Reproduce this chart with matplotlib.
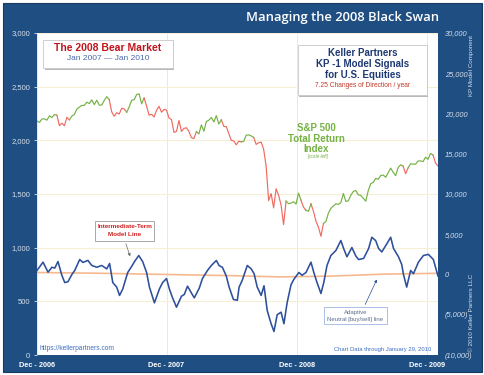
import numpy as np
import pandas as pd
import matplotlib
matplotlib.use("Agg")
import matplotlib.pyplot as plt
from matplotlib.patches import Rectangle
from matplotlib.ticker import FuncFormatter

# ===== Data =====
# S&P 500 total return index (scale left), weekly Fridays Dec 29 2006 - Jan 29 2010
sp_dates = pd.date_range("2006-12-29", "2010-01-29", freq="W-FRI")
sp_2006 = [2180]
sp_2007 = [2167, 2199, 2200, 2188, 2229, 2212, 2241, 2234, 2137, 2160, 2136, 2215, 2191,
           2226, 2241, 2291, 2309, 2325, 2326, 2355, 2343, 2377, 2333, 2374, 2328, 2329,
           2372, 2407, 2380, 2264, 2225, 2257, 2245, 2299, 2292, 2262, 2310, 2374, 2378,
           2426, 2433, 2340, 2394, 2320, 2234, 2243, 2218, 2280, 2317, 2262, 2288, 2281]
sp_2008 = [2208, 2193, 2074, 2083, 2185, 2083, 2111, 2117, 2083, 2025, 2016, 2081, 2060,
           2144, 2085, 2175, 2188, 2213, 2172, 2230, 2152, 2191, 2130, 2128, 2063, 2000,
           1994, 1958, 1992, 1986, 1991, 2048, 2051, 2041, 2027, 1962, 1978, 1983, 1917,
           1758, 1438, 1504, 1370, 1549, 1488, 1397, 1215, 1434, 1410, 1415, 1428, 1406]
sp_2009 = [1508, 1442, 1377, 1348, 1338, 1408, 1340, 1247, 1191, 1106, 1225, 1244, 1322,
           1366, 1388, 1409, 1403, 1421, 1505, 1430, 1437, 1489, 1523, 1533, 1492, 1487,
           1460, 1433, 1532, 1596, 1609, 1646, 1637, 1672, 1677, 1656, 1698, 1741, 1702,
           1671, 1746, 1772, 1760, 1689, 1743, 1782, 1778, 1778, 1808, 1808, 1802, 1843]
sp_2010 = [1823, 1878, 1863, 1789, 1761]
sp_vals = sp_2006 + sp_2007 + sp_2008 + sp_2009 + sp_2010

# KP model signal changes (buy = green, sell = red)
signal_dates = ["2006-12-29", "2007-02-27", "2007-04-03", "2007-07-24", "2007-09-10",
                "2007-10-30", "2008-03-28", "2008-06-06", "2008-08-01", "2008-09-02",
                "2008-12-01", "2009-01-14", "2009-01-26", "2009-02-13", "2009-03-17",
                "2009-10-28", "2009-11-09", "2010-01-20"]
signal_state = ["buy", "sell", "buy", "sell", "buy", "sell", "buy", "sell", "buy", "sell",
                "buy", "sell", "buy", "sell", "buy", "sell", "buy", "sell"]

# Intermediate-term model line (scale right)
model_dates = ["2006-12-29", "2007-01-15", "2007-01-29", "2007-02-09", "2007-02-17",
               "2007-02-26", "2007-03-09", "2007-03-17", "2007-03-26", "2007-04-06",
               "2007-04-14", "2007-04-28", "2007-05-07", "2007-05-21", "2007-06-01",
               "2007-06-15", "2007-06-29", "2007-07-13", "2007-07-21", "2007-07-30",
               "2007-08-10", "2007-08-18", "2007-08-27", "2007-09-10", "2007-09-21",
               "2007-09-29", "2007-10-11", "2007-10-22", "2007-11-02", "2007-11-10",
               "2007-11-24", "2007-12-08", "2007-12-17", "2007-12-28", "2008-01-05",
               "2008-01-14", "2008-01-25", "2008-02-08", "2008-02-16", "2008-02-25",
               "2008-03-07", "2008-03-15", "2008-03-29", "2008-04-07", "2008-04-21",
               "2008-05-02", "2008-05-16", "2008-05-24", "2008-06-02", "2008-06-13",
               "2008-06-21", "2008-07-03", "2008-07-14", "2008-07-19", "2008-07-28",
               "2008-08-11", "2008-08-22", "2008-08-30", "2008-09-08", "2008-09-19",
               "2008-09-27", "2008-10-06", "2008-10-17", "2008-10-25", "2008-11-03",
               "2008-11-14", "2008-11-22", "2008-12-01", "2008-12-12", "2008-12-20",
               "2009-01-03", "2009-01-12", "2009-01-23", "2009-02-06", "2009-02-14",
               "2009-02-23", "2009-03-06", "2009-03-14", "2009-03-23", "2009-04-03",
               "2009-04-17", "2009-05-01", "2009-05-09", "2009-05-18", "2009-06-01",
               "2009-06-12", "2009-06-20", "2009-07-04", "2009-07-18", "2009-07-27",
               "2009-08-07", "2009-08-15", "2009-08-24", "2009-09-07", "2009-09-18",
               "2009-09-26", "2009-10-10", "2009-10-19", "2009-10-24", "2009-11-02",
               "2009-11-13", "2009-11-21", "2009-12-05", "2009-12-19", "2010-01-02",
               "2010-01-16", "2010-01-29"]
model_vals = [500, 1530, 290, 900, 800, 1610, -120, -1000, -900, 0,
              500, 1860, 1500, 1750, 1120, 900, 1120, 700, 1370, -1000,
              -1570, -2600, -1800, 250, 1000, 1600, 2360, 1600, 250, -1570,
              -3520, -1800, -1000, -500, -1800, -2900, -4060, -2700, -2480, -1450,
              -2300, -2900, -1700, -500, 500, 1120, 1740, 1100, 900, -200,
              -1570, -3100, -3200, -1570, -700, 1120, 700, 120, -1570, -2600,
              -1400, -4470, -6120, -7080, -5000, -4680, -6120, -3500, -1260, -600,
              250, -100, 250, 1530, 250, -1000, -2360, -1000, 1120, 2360,
              2980, 4220, 3200, 2200, 3350, 2300, 1860, 2000, 3230, 4630,
              4200, 3230, 2800, 3800, 4630, 3230, 2200, 1250, 0, -1570,
              500, 100, 1530, 2360, 2500, 1860, -200]

# Adaptive neutral [buy/sell] line (scale right)
neutral_dates = ["2006-12-29", "2007-06-29", "2008-01-04", "2008-07-03", "2008-11-14",
                 "2009-04-03", "2009-09-04", "2010-01-29"]
neutral_vals = [250, 150, 0, -150, -300, -200, 50, 150]

x_ticks = ["2006-12-29", "2007-12-28", "2008-12-29", "2009-12-29"]
x_labels = ["Dec - 2006", "Dec - 2007", "Dec - 2008", "Dec - 2009"]

# ===== Style =====
BLUE_BG = "#1f4e82"
GREEN = "#74b244"
RED = "#f06a60"
MODEL = "#2e4f9c"
NEUTRAL = "#f6b98f"
TICK = "#d6dfeb"
FONT = "Liberation Sans"

W, H = 485, 375
fig = plt.figure(figsize=(W / 100, H / 100), dpi=100)
fig.patch.set_facecolor("white")
fig.patches.append(Rectangle((0.007, 0.009), 0.986, 0.982, transform=fig.transFigure,
                             facecolor=BLUE_BG, edgecolor="#163a63", lw=0.8, zorder=-5))

# plot area in pixels: x 37..438, y 33..355
ax = fig.add_axes([37 / W, (H - 355) / H, 401 / W, 322 / H])
ax.set_facecolor("white")
for s in ax.spines.values():
    s.set_visible(False)

# S&P line coloured by signal
sig_idx = np.searchsorted(pd.to_datetime(signal_dates).values, sp_dates.values, side="right") - 1
pt_col = [GREEN if signal_state[i] == "buy" else RED for i in sig_idx]
seg_col = pt_col[1:]
start = 0
for i in range(1, len(seg_col) + 1):
    if i == len(seg_col) or seg_col[i] != seg_col[start]:
        ax.plot(sp_dates[start:i + 1], sp_vals[start:i + 1], color=seg_col[start],
                lw=0.85, zorder=3)
        start = i

ax.set_ylim(0, 3000)
ax.set_xlim(pd.Timestamp("2006-12-29"), pd.Timestamp("2010-01-29"))
ax.set_yticks(range(0, 3001, 500))
ax.yaxis.set_major_formatter(FuncFormatter(lambda v, p: f"{v:,.0f}"))
ax.set_xticks(pd.to_datetime(x_ticks))
ax.set_xticklabels(x_labels)
ax.grid(axis="y", color="#f6efd6", lw=0.8, zorder=0)
ax.grid(axis="x", color="#e8e8e8", lw=0.7, zorder=0)
ax.tick_params(axis="y", colors=TICK, labelsize=5.5, length=2, width=0.6, pad=3)
ax.tick_params(axis="x", colors="white", labelsize=5.3, length=0, pad=5)
for t in ax.get_xticklabels():
    t.set_fontweight("bold")
    t.set_fontfamily(FONT)
for t in ax.get_yticklabels():
    t.set_fontfamily(FONT)

# model line on right scale
ax2 = ax.twinx()
for s in ax2.spines.values():
    s.set_visible(False)
ax2.plot(pd.to_datetime(neutral_dates), neutral_vals, color=NEUTRAL, lw=1.2, zorder=2)
ax2.plot(pd.to_datetime(model_dates), model_vals, color=MODEL, lw=1.15, zorder=3,
         solid_joinstyle="round")
ax2.set_ylim(-10000, 30000)
ax2.set_yticks(range(-10000, 30001, 5000))
ax2.yaxis.set_major_formatter(
    FuncFormatter(lambda v, p: f"({abs(v):,.0f})" if v < 0 else f"{v:,.0f}"))
ax2.tick_params(axis="y", colors=TICK, labelsize=5.3, length=0, pad=5)
for t in ax2.get_yticklabels():
    t.set_fontstyle("italic")
    t.set_fontfamily(FONT)


def px(x, y):
    # pixel position -> axes fraction
    return (x - 37) / 401, (355 - y) / 322


def box(x0, y0, x1, y1, edge="#c8c8c8", shadow=True):
    a0, b1 = px(x0, y1)
    a1, b0 = px(x1, y0)
    if shadow:
        sx, sy = 1.5 / 401, 1.5 / 322
        ax2.add_patch(Rectangle((a0 + sx, b1 - sy), a1 - a0, b0 - b1, transform=ax2.transAxes,
                                facecolor="#b9b9b9", edgecolor="none", zorder=6))
    ax2.add_patch(Rectangle((a0, b1), a1 - a0, b0 - b1, transform=ax2.transAxes,
                            facecolor="white", edgecolor=edge, lw=0.6, zorder=7))


def label(x, y, s, **kw):
    kw.setdefault("family", FONT)
    kw.setdefault("ha", "center")
    kw.setdefault("va", "center")
    ax2.text(*px(x, y), s, transform=ax2.transAxes, zorder=8, **kw)


# Bear market box
box(43, 40, 173, 68)
label(108, 48, "The 2008 Bear Market", color="#c0141b", fontsize=7.5, fontweight="bold")
label(108, 58.5, "Jan 2007 \u2014 Jan 2010", color="#4a68a8", fontsize=6)

# Keller box
box(298, 45, 427, 95)
label(363, 53, "Keller Partners", color="#1f3a73", fontsize=7, fontweight="bold")
label(363, 64, "KP -1 Model Signals", color="#1f3a73", fontsize=7, fontweight="bold")
label(363, 75, "for U.S. Equities", color="#1f3a73", fontsize=7, fontweight="bold")
label(363, 85.5, "7.25 Changes of Direction / year", color="#c0392b", fontsize=4.8)

# S&P label
label(316, 128, "S&P 500", color=GREEN, fontsize=7, fontweight="bold")
label(316, 138.5, "Total Return", color=GREEN, fontsize=7, fontweight="bold")
label(316, 149, "Index", color=GREEN, fontsize=7, fontweight="bold")
label(318, 157, "[scale left]", color=GREEN, fontsize=3.3, fontstyle="italic")

# Intermediate-term annotation
box(95, 221, 154, 241, shadow=False, edge="#9a9a9a")
label(125, 226.5, "Intermediate-Term", color="#d0201f", fontsize=4.6, fontweight="bold")
label(125, 234.5, "Model Line", color="#d0201f", fontsize=4.6, fontweight="bold")
ax2.annotate("", xy=px(131, 259), xytext=px(125, 241), xycoords=ax2.transAxes,
             textcoords=ax2.transAxes, zorder=8,
             arrowprops=dict(arrowstyle="-|>", color="#6a6a6a", lw=0.5, mutation_scale=4))

# Adaptive neutral annotation
box(324, 307, 387, 324, shadow=False, edge="#9db4e0")
label(355.5, 312.5, "Adaptive", color="#5b6c8f", fontsize=4.3)
label(355.5, 319.5, "Neutral [buy/sell] line", color="#5b6c8f", fontsize=4.3)
ax2.annotate("", xy=px(378, 277), xytext=px(364, 307), xycoords=ax2.transAxes,
             textcoords=ax2.transAxes, zorder=8,
             arrowprops=dict(arrowstyle="-|>", color="#2e4f9c", lw=0.5, mutation_scale=4))

# footer texts inside plot
label(40, 349, "https://kellerpartners.com", color="#3f6fc0", fontsize=4.8, ha="left")
label(431, 350, "Chart Data through January 29, 2010", color="#3f6fc0", fontsize=4.2,
      ha="right")

# frame texts
fig.text(342 / W, 1 - 17 / H, "Managing the 2008 Black Swan", color="white",
         fontsize=9.4, fontweight="semibold", family="Open Sans", ha="center", va="center")
fig.text(472 / W, 1 - 35 / H, "KP Model Component", color=TICK, fontsize=4.5,
         family=FONT, rotation=90, ha="center", va="top")
fig.text(472 / W, 1 - 352 / H, "\u00a9 2010 Keller Partners LLC", color=TICK, fontsize=4.6,
         family=FONT, rotation=90, ha="center", va="bottom")

fig.savefig("out.png", dpi=100, facecolor=fig.get_facecolor())
